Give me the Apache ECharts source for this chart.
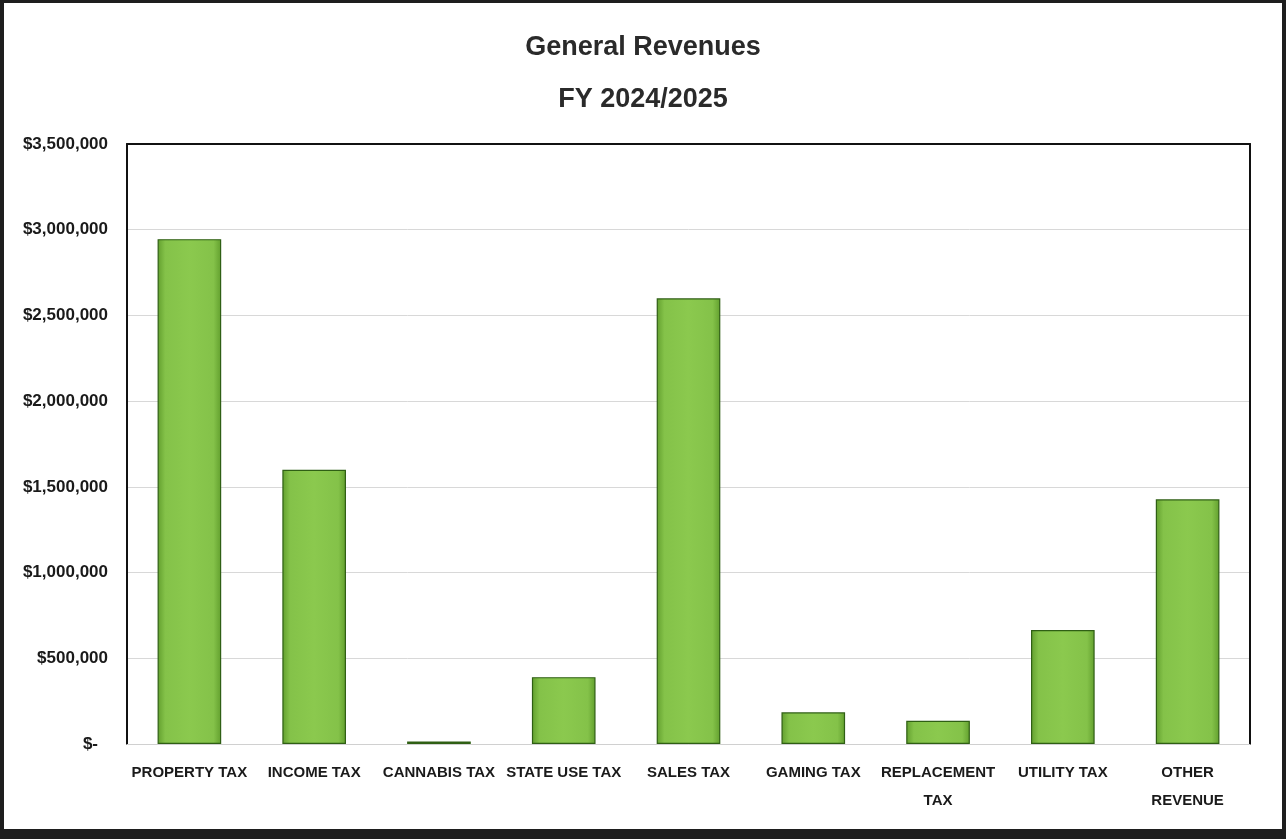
<!DOCTYPE html>
<html>
<head>
<meta charset="utf-8">
<script src="https://cdn.jsdelivr.net/npm/echarts@6/dist/echarts.min.js"></script>
<style>
  html, body { margin: 0; padding: 0; background: #ffffff; }
  #chart { position: absolute; left: 0; top: 0; width: 1286px; height: 839px; }
  #frame {
    position: absolute; left: 0; top: 0; width: 1286px; height: 839px;
    box-sizing: border-box; pointer-events: none;
    border-style: solid; border-color: #1e1e1e;
    border-width: 3px 4px 10px 4px;
  }
</style>
</head>
<body>
<div id="chart"></div>
<div id="frame"></div>
<script>
// Revenue categories (two-line labels keep their line break)
const categories = [
  'PROPERTY TAX', 'INCOME TAX', 'CANNABIS TAX', 'STATE USE TAX', 'SALES TAX',
  'GAMING TAX', 'REPLACEMENT\nTAX', 'UTILITY TAX', 'OTHER\nREVENUE'
];
// Budgeted general revenue, dollars
const revenues = [2945000, 1600000, 15000, 390000, 2600000, 185000, 135000, 665000, 1427000];
// Value axis range and step
const axisMin = 0;
const axisMax = 3500000;
const axisStep = 500000;

const labelFont = '"Liberation Sans", Arial, sans-serif';

function money(v) {
  if (v === 0) return '{dash|$-}';
  return '$' + v.toLocaleString('en-US');
}

const chart = echarts.init(document.getElementById('chart'), null, { renderer: 'canvas' });

chart.setOption({
  animation: false,
  backgroundColor: '#ffffff',
  title: {
    text: 'General Revenues\nFY 2024/2025',
    left: 'center',
    top: 17,
    textStyle: {
      fontFamily: '"Liberation Sans", Arial, sans-serif',
      fontWeight: 'bold',
      fontSize: 27,
      lineHeight: 52,
      color: '#2a2a2a'
    }
  },
  grid: { left: 127, right: 36, top: 144, bottom: 95, containLabel: false },
  xAxis: [
    {
      type: 'category',
      data: categories,
      position: 'bottom',
      axisLine: { show: true, lineStyle: { color: '#d0d0d0', width: 1 } },
      axisTick: { show: false },
      axisLabel: {
        interval: 0,
        margin: 15,
        fontFamily: labelFont,
        fontWeight: 'bold',
        fontSize: 15,
        lineHeight: 28,
        color: '#1a1a1a'
      }
    },
    {
      type: 'category',
      data: categories,
      position: 'top',
      axisLine: { show: true, onZero: false, lineStyle: { color: '#111111', width: 2 } },
      axisTick: { show: false },
      axisLabel: { show: false }
    }
  ],
  yAxis: [
    {
      type: 'value',
      min: axisMin,
      max: axisMax,
      interval: axisStep,
      axisLine: { show: true, onZero: false, lineStyle: { color: '#111111', width: 2 } },
      axisTick: { show: false },
      splitLine: { show: true, lineStyle: { color: '#d8d8d8', width: 1 } },
      axisLabel: {
        margin: 19,
        fontFamily: labelFont,
        fontWeight: 'bold',
        fontSize: 17,
        color: '#1a1a1a',
        formatter: money,
        rich: {
          dash: {
            fontFamily: labelFont,
            fontWeight: 'bold',
            fontSize: 17,
            color: '#1a1a1a',
            padding: [0, 10, 0, 0]
          }
        }
      }
    },
    {
      type: 'value',
      min: axisMin,
      max: axisMax,
      interval: axisStep,
      position: 'right',
      axisLine: { show: true, onZero: false, lineStyle: { color: '#111111', width: 2 } },
      axisTick: { show: false },
      splitLine: { show: false },
      axisLabel: { show: false }
    }
  ],
  series: [
    {
      type: 'bar',
      data: revenues,
      xAxisIndex: 0,
      yAxisIndex: 0,
      barCategoryGap: '49%',
      itemStyle: {
        color: new echarts.graphic.LinearGradient(0, 0, 1, 0, [
          { offset: 0, color: '#629f2e' },
          { offset: 0.12, color: '#84c249' },
          { offset: 0.5, color: '#8bc94e' },
          { offset: 0.88, color: '#84c249' },
          { offset: 1, color: '#629f2e' }
        ]),
        borderColor: '#2f5f14',
        borderWidth: 1.2
      }
    }
  ]
});
</script>
</body>
</html>
